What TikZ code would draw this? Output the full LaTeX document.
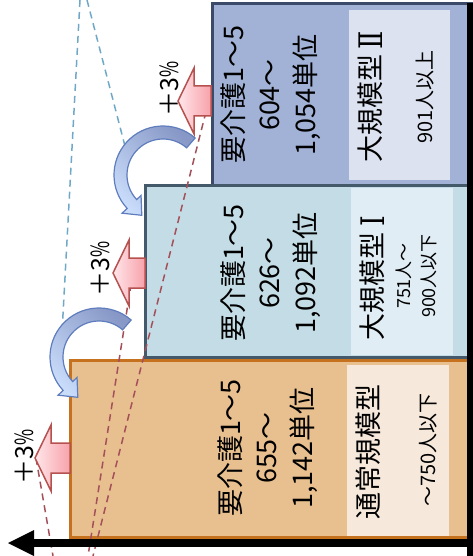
\documentclass[tikz,border=0pt]{standalone}
\usepackage{fontspec}
\setmainfont{Noto Sans CJK JP}
\newfontfamily\romfont{DejaVu Serif}
\usetikzlibrary{calc}
\definecolor{bAfill}{HTML}{A1B2D6}
\definecolor{bAline}{HTML}{3B4A68}
\definecolor{bApanel}{HTML}{DCE2F0}
\definecolor{bBfill}{HTML}{C4DCE5}
\definecolor{bBline}{HTML}{44596A}
\definecolor{bBpanel}{HTML}{E0EDF4}
\definecolor{bCfill}{HTML}{E8BF8F}
\definecolor{bCline}{HTML}{C6711E}
\definecolor{bCpanel}{HTML}{F6E8DA}
\definecolor{pinkL}{HTML}{FFE6EA}
\definecolor{pinkR}{HTML}{F7A2AA}
\definecolor{pinkline}{HTML}{B5514F}
\definecolor{curveL}{HTML}{C9DCFA}
\definecolor{curveR}{HTML}{8797C6}
\definecolor{curveline}{HTML}{5F7DBD}
\definecolor{dashblue}{HTML}{70A8C8}
\definecolor{dashred}{HTML}{A4505A}
\newcommand\plusarrow[4]{% tip x, tip y, box edge x, name
  \path[pinkarrow] (#1,#2) -- ++(16,-33) -- ++(0,18) -- (#3,#2-15) -- (#3,#2+15) -- ++(#1+16-#3,0) -- ++(0,18) -- cycle;
}
\newcommand\bendarrow[1]{%
  \path[curvearrow] ($(#1)+(-49:49)$) arc[start angle=-49, end angle=-223, radius=49]
    -- ($(#1)+(-223:56)$) -- ($(#1)+(-223:43)+(-313:15)$) -- ($(#1)+(-223:30)$) -- ($(#1)+(-223:36)$)
    arc[start angle=-223, end angle=-49, radius=36] -- cycle;
}
\newcommand\bigrom[1]{\raisebox{-2pt}{\scalebox{1}[1.2]{\romfont #1}}}
\begin{document}
\begin{tikzpicture}[x=1pt,y=-1pt,
  box/.style={line width=3pt, outer sep=0pt, inner sep=0pt, anchor=north west},
  panel/.style={outer sep=0pt, inner sep=0pt, anchor=north west},
  maintxt/.style={rotate=90, align=center, font=\fontsize{27}{36}\selectfont, inner sep=0pt},
  titletxt/.style={rotate=90, font=\fontsize{27}{34}\selectfont, inner sep=0pt},
  subtxt/.style={rotate=90, align=center, inner sep=0pt},
  pcttxt/.style={rotate=90, font=\fontsize{25}{30}\selectfont, inner sep=0pt},
  pinkarrow/.style={draw=pinkline, line width=1.5pt, left color=pinkL, right color=pinkR, line join=miter},
  curvearrow/.style={draw=curveline, line width=1.2pt, top color=curveR, bottom color=curveL, shading angle=-45},
  bluedash/.style={draw=dashblue, line width=1.5pt, dash pattern=on 7pt off 5pt},
  reddash/.style={draw=dashred, line width=1.5pt, dash pattern=on 7pt off 5pt},
]
\useasboundingbox (0,0) rectangle (473,556);
\clip (0,0) rectangle (473,556);
% boxes
\node[box, draw=bAline, fill=bAfill, minimum width=270, minimum height=181] (boxA) at (212,4) {};
\node[box, draw=bBline, fill=bBfill, minimum width=340, minimum height=172] (boxB) at (145,185) {};
\node[box, draw=bCline, fill=bCfill, minimum width=420, minimum height=177] (boxC) at (70,360) {};
% panels
\node[panel, fill=bApanel, minimum width=101, minimum height=170] (panA) at (349,10) {};
\node[panel, fill=bBpanel, minimum width=102, minimum height=167] (panB) at (351,188) {};
\node[panel, fill=bCpanel, minimum width=102, minimum height=171] (panC) at (347,365) {};
% dashed guide lines
\coordinate (bd1s) at (80,0);   \coordinate (bd1e) at (62,333);
\coordinate (bd2s) at (87,0);   \coordinate (bd2e) at (126,150);
\draw[bluedash] (bd1s) -- (bd1e);
\draw[bluedash] (bd2s) -- (bd2e);
\coordinate (rd1s) at (209,100); \coordinate (rd1e) at (93,556);
\coordinate (rd2s) at (133,272); \coordinate (rd2e) at (88,556);
\coordinate (rd3s) at (36,458);  \coordinate (rd3e) at (53,556);
\draw[reddash] (rd1s) -- (rd1e);
\draw[reddash] (rd2s) -- (rd2e);
\draw[reddash] (rd3s) -- (rd3e);
% +3% arrows
\plusarrow{178}{101}{211}{pa}
\plusarrow{113}{273}{145}{pb}
\plusarrow{35}{458}{70}{pc}
% curved arrows
\coordinate (cA) at (163,175);
\coordinate (cB) at (99,357);
\bendarrow{cA}
\bendarrow{cB}
% texts
\node[pcttxt] (pctA) at (169,89) {＋3\scalebox{0.7}[1]{\%}};
\node[pcttxt] (pctB) at (100,269) {＋3\scalebox{0.7}[1]{\%}};
\node[pcttxt] (pctC) at (24,457) {＋3\scalebox{0.7}[1]{\%}};
\node[maintxt] (mA) at (271,95) {要介護1～5\\604～\\1,054単位};
\node[maintxt] (mB) at (271,273) {要介護1～5\\626～\\1,092単位};
\node[maintxt] (mC) at (268,448) {要介護1～5\\655～\\1,142単位};
\node[titletxt] (tA) at (370,97) {大規模型\,\bigrom{Ⅱ}};
\node[titletxt] (tB) at (372,278) {大規模型\ \bigrom{Ⅰ}};
\node[titletxt] (tC) at (368,452) {通常規模型};
\node[subtxt, font=\fontsize{20}{24}\selectfont] (sA) at (425,97) {901人以上};
\node[subtxt, font=\fontsize{18}{25}\selectfont] (sB) at (416,276) {751人～\\900人以下};
\node[subtxt, font=\fontsize{20}{24}\selectfont] (sC) at (428,450) {～750人以下};
% axes
\fill[black] (467,3) rectangle (474,556);
\coordinate (axR) at (474,543);
\coordinate (axL) at (8,543);
\draw[black, line width=8pt] (axR) -- (32,543);
\fill[black] (axL) -- (34,530) -- (34,556) -- cycle;
\end{tikzpicture}
\end{document}
